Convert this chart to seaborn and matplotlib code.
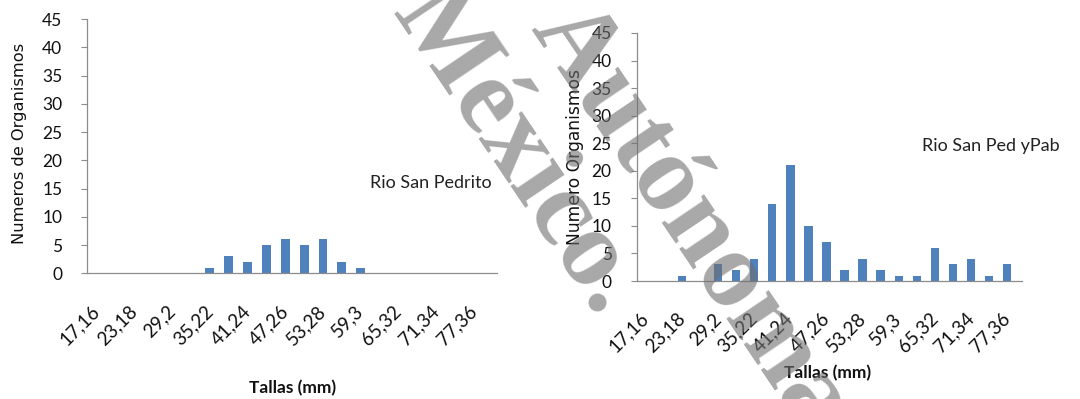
import matplotlib
matplotlib.use("Agg")
import matplotlib.pyplot as plt
import matplotlib.transforms as mtransforms
import seaborn as sns
import pandas as pd

# Size classes (mm), one per bar
tallas = ["17,16", "20,17", "23,18", "26,19", "29,2", "32,21", "35,22",
          "38,23", "41,24", "44,25", "47,26", "50,27", "53,28", "56,29",
          "59,3", "62,31", "65,32", "68,33", "71,34", "74,35", "77,36"]

# Number of organisms per size class
rio_san_pedrito = [0, 0, 0, 0, 0, 0, 1, 3, 2, 5, 6, 5, 6, 2, 1,
                   0, 0, 0, 0, 0, 0]
rio_san_ped_pab = [0, 0, 1, 0, 3, 2, 4, 14, 21, 10, 7, 2, 4, 2, 1,
                   1, 6, 3, 4, 1, 3]

sns.set_theme(style="white")
plt.rcParams["font.family"] = ["Lato", "DejaVu Sans"]

BAR = "#4f81bd"
AXIS = "#8c8c8c"
INK = "#111111"

fig = plt.figure(figsize=(10.8, 3.99), dpi=100)
fig.patch.set_facecolor("white")

ax1 = fig.add_axes([0.0808, 0.315, 0.379, 0.637])
ax2 = fig.add_axes([0.5895, 0.2957, 0.3565, 0.6216])


def draw(ax, values, ylabel, ylabel_size, xlim_right, ylab_xy, xlab_xy):
    df = pd.DataFrame({"Tallas": tallas, "N": values})
    sns.barplot(data=df, x="Tallas", y="N", order=tallas, color=BAR,
                saturation=1, width=0.47, linewidth=0, ax=ax)
    ax.set_xlim(-0.5, xlim_right)
    ax.set_ylim(0, 45)
    ax.set_yticks(range(0, 46, 5))
    ax.set_yticklabels([str(v) for v in range(0, 46, 5)], fontsize=12.5)
    ax.set_xticks(range(0, len(tallas), 2))
    ax.set_xticklabels(tallas[::2], fontsize=13.5, rotation=45,
                       ha="right", va="center", rotation_mode="anchor")
    shift = mtransforms.ScaledTranslation(5 / 100, 0, fig.dpi_scale_trans)
    for lab in ax.get_xticklabels():
        lab.set_transform(lab.get_transform() + shift)
    ax.tick_params(axis="x", length=0, pad=25, colors=INK)
    ax.tick_params(axis="y", length=4, width=0.8, color=AXIS, pad=14,
                   labelcolor=INK, left=True)
    for side in ("top", "right"):
        ax.spines[side].set_visible(False)
    for side in ("left", "bottom"):
        ax.spines[side].set_color(AXIS)
        ax.spines[side].set_linewidth(0.9)
    ax.set_ylabel(ylabel, fontsize=ylabel_size, family="DejaVu Sans",
                  color=INK)
    ax.yaxis.set_label_coords(*ylab_xy)
    ax.set_xlabel("Tallas (mm)", fontsize=12.5, fontweight="bold",
                  color=INK)
    ax.xaxis.set_label_coords(*xlab_xy)


draw(ax1, rio_san_pedrito, "Numeros de Organismos", 11.7, 21.2,
     (-0.148, 0.51), (0.502, -0.42))
draw(ax2, rio_san_ped_pab, "Numero Organismos", 12.3, 20.8,
     (-0.137, 0.50), (0.497, -0.34))

ax1.text(0.988, 16, "Rio San Pedrito", transform=ax1.get_yaxis_transform(),
         ha="right", va="center", fontsize=13, color="#222222")
ax2.text(1.0995, 24.5, "Rio San Ped yPab", transform=ax2.get_yaxis_transform(),
         ha="right", va="center", fontsize=13, color="#222222")

# Diagonal institutional watermark over both panels
wm = dict(rotation=-56, rotation_mode="anchor", va="baseline",
          fontsize=79, family="Liberation Serif", fontweight="bold",
          color="#6e6e6e", alpha=0.6, zorder=10)
fig.text(0.5545, 0.205, "de México.", ha="right", **wm)
fig.text(0.491, 0.927, "Autónoma", ha="left", **wm)

fig.savefig("out.png", dpi=100)
